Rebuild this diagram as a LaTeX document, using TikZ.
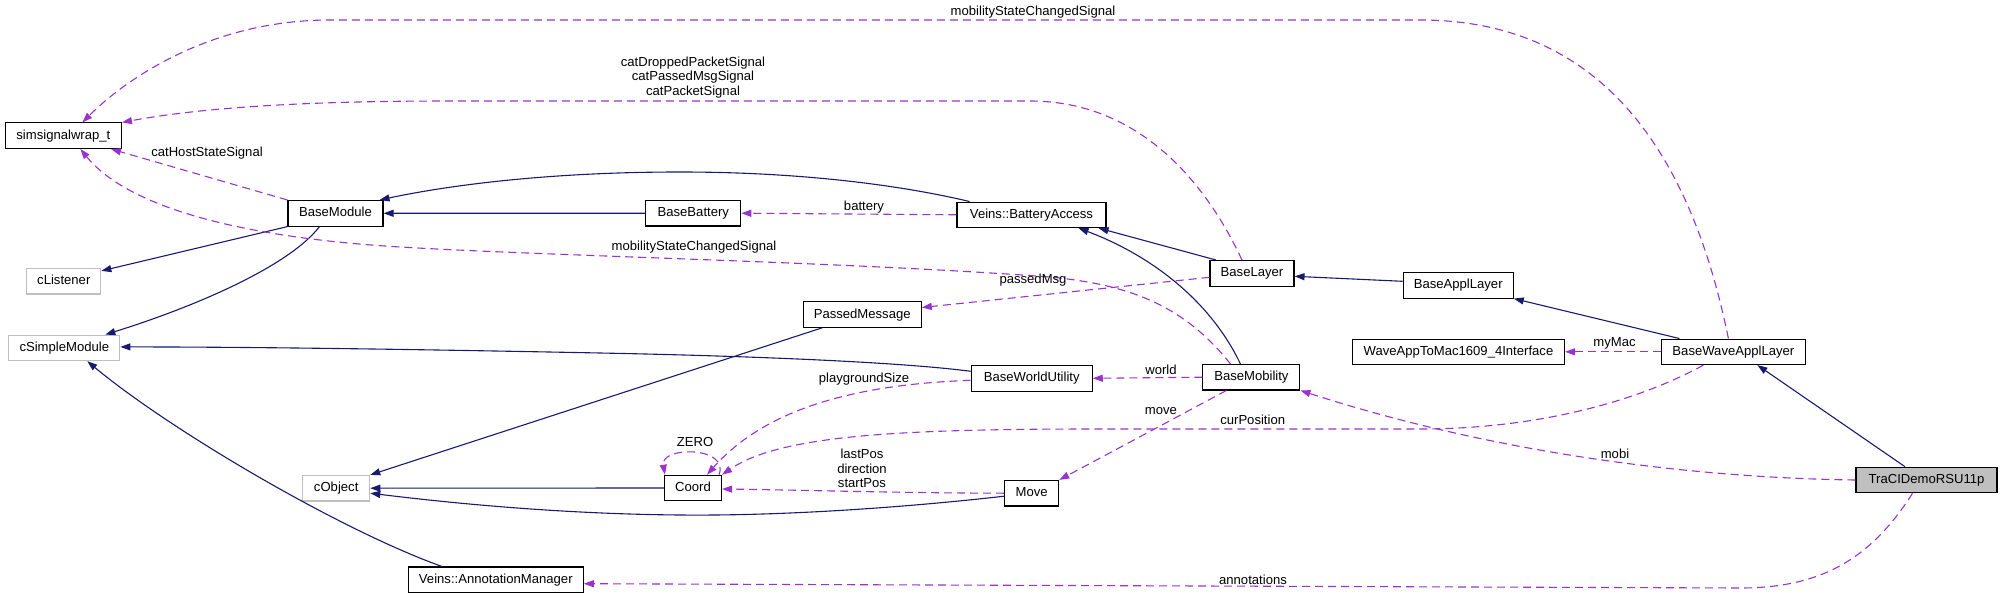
\documentclass[tikz,border=0pt]{standalone}
\usepackage{fontspec}
\setmainfont{Liberation Sans}
\usetikzlibrary{arrows.meta}
\definecolor{navy}{HTML}{191970}
\definecolor{orchid}{HTML}{9A32CD}
\definecolor{boxgray}{HTML}{BFBFBF}
\newcommand\dxfont{\fontsize{13.1}{14.8}\selectfont}
\tikzset{
  cls/.style={draw=black, line width=1.1pt, fill=white, inner sep=0pt,
    minimum height=25.5pt, text height=9.8pt, text depth=2.8pt, font=\dxfont},
  ext/.style={cls, draw=boxgray},
  inh/.style={draw=navy, line width=1.1pt, -{Triangle[length=10pt,width=7pt]}},
  use/.style={draw=orchid, line width=1.1pt, dash pattern=on 8pt off 5pt,
    -{Triangle[length=10pt,width=7pt]}},
  lbl/.style={font=\dxfont, inner sep=0pt, align=center, text height=9.8pt, text depth=2.8pt},
  mlbl/.style={font=\dxfont, inner sep=0pt, align=center},
}
\begin{document}
\begin{tikzpicture}[x=1pt,y=-1pt]
\useasboundingbox (0,0) rectangle (2003,599);
% nodes
\node[cls, minimum width=116pt] (sig)   at (63.4,135.7)  {simsignalwrap\_t};
\node[cls, minimum width=95pt]  (bmod)  at (335.5,213.3) {BaseModule};
\node[ext, minimum width=74pt]  (clis)  at (63.8,281.2)  {cListener};
\node[ext, minimum width=111pt] (csim)  at (64.3,347.9)  {cSimpleModule};
\node[ext, minimum width=67pt]  (cobj)  at (336.2,488.2) {cObject};
\node[cls, minimum width=175pt] (annot) at (495.8,579.7) {Veins::AnnotationManager};
\node[cls, minimum width=95pt]  (bbat)  at (693.3,213.2) {BaseBattery};
\node[cls, minimum width=118pt] (pmsg)  at (862.2,314.5) {PassedMessage};
\node[cls, minimum width=57pt]  (coord) at (693,488)     {Coord};
\node[cls, minimum width=149pt] (bacc)  at (1031.5,214.8) {Veins::BatteryAccess};
\node[cls, minimum width=121pt] (bwu)   at (1031.7,378.3) {BaseWorldUtility};
\node[cls, minimum width=54pt]  (move)  at (1031.7,493.2) {Move};
\node[cls, minimum width=84pt]  (blay)  at (1252,273.3)  {BaseLayer};
\node[cls, minimum width=97pt]  (bmob)  at (1251.4,377.2) {BaseMobility};
\node[cls, minimum width=110pt] (bapp)  at (1458.2,285.3) {BaseApplLayer};
\node[cls, minimum width=212pt] (wave)  at (1458.5,351.8) {WaveAppToMac1609\_4Interface};
\node[cls, minimum width=144pt] (bwal)  at (1733.4,351.8) {BaseWaveApplLayer};
\node[cls, minimum width=141pt, fill=boxgray] (traci) at (1926.5,480) {TraCIDemoRSU11p};

% inheritance edges
\draw[inh] (bbat.west) -- (bmod.east);
\draw[inh] ([xshift=-62pt]bacc.north) .. controls (900,185) and (800,172) .. (680,172)
   .. controls (550,172) and (450,185) .. ([xshift=44pt]bmod.north);
\draw[inh] (bmod.south west) -- ([yshift=-3pt]clis.north east);
\draw[inh] ([xshift=-16pt]bmod.south) .. controls (290,265) and (200,305) .. ([xshift=-15pt]csim.north east);
\draw[inh] ([yshift=7pt]bwu.west) .. controls (900,362) and (750,356) .. (600,353)
   .. controls (400,349) and (250,347) .. ([yshift=1pt]csim.east);
\draw[inh] ([xshift=-54pt]annot.north) .. controls (340,530) and (170,430) .. ([xshift=23pt]csim.south);
\draw[inh] ([xshift=-40pt]pmsg.south) -- (cobj.north east);
\draw[inh] (coord.west) -- (cobj.east);
\draw[inh] ([yshift=-3pt]move.west) .. controls (900,508) and (780,516) .. (680,515)
   .. controls (560,514) and (450,503) .. ([yshift=-5pt]cobj.east);
\draw[inh] ([xshift=-11pt]bmob.north) .. controls (1210,300) and (1150,255) .. ([xshift=47pt]bacc.south);
\draw[inh] ([xshift=-36pt]blay.north) -- ([xshift=67pt]bacc.south);
\draw[inh] ([yshift=4pt]bapp.west) -- ([yshift=-3pt]blay.east);
\draw[inh] ([xshift=-54pt]bwal.north) -- (bapp.south east);
\draw[inh] ([xshift=-21.5pt]traci.north) -- ([xshift=24pt]bwal.south);

% usage edges
\draw[use] ([xshift=-5pt]bwal.north) .. controls (1690,150) and (1600,20) .. (1420,20)
   -- (330,20) .. controls (215,20) and (130,75) .. ([xshift=19pt]sig.north);
\node[lbl] (l1) at (1033,11.7) {mobilityStateChangedSignal};

\draw[use] ([xshift=-10pt]blay.north) .. controls (1200,170) and (1130,101) .. (1030,101)
   -- (450,101) .. controls (300,101) and (200,108) .. (sig.north east);
\node[mlbl] (l2) at (693,77.5) {catDroppedPacketSignal\\catPassedMsgSignal\\catPacketSignal};

\draw[use] (bmod.north west) -- ([xshift=-11pt]sig.south east);
\node[lbl] (l3) at (207,153) {catHostStateSignal};

\draw[use] ([xshift=-21pt]bmob.north) .. controls (1180,300) and (1120,284) .. (1050,277)
   .. controls (850,262) and (550,256) .. (400,247)
   .. controls (250,238) and (130,210) .. ([xshift=17pt]sig.south);
\node[lbl] (l4) at (694,247) {mobilityStateChangedSignal};

\draw[use] (bacc.west) -- (bbat.east);
\node[lbl] (l5) at (864,206.7) {battery};

\draw[use] ([yshift=-4pt]blay.west) -- ([yshift=7pt]pmsg.east);
\node[lbl] (l6) at (1033,280) {passedMsg};

\draw[use] (bmob.west) -- (bwu.east);
\node[lbl] (l7) at (1161,370.7) {world};

\draw[use] ([yshift=-2pt]bwu.west) .. controls (840,385) and (760,415) .. ([xshift=14pt]coord.north);
\node[lbl] (l8) at (864,379) {playgroundSize};

\draw[use] ([xshift=-3pt]coord.north east) .. controls (730,446) and (660,446) .. ([xshift=1pt]coord.north west);
\node[lbl] (l9) at (695,442.7) {ZERO};

\draw[use] (move.west) .. controls (900,493) and (800,490) .. ([yshift=-1pt]coord.east);
\node[mlbl] (l10) at (862,468.5) {lastPos\\direction\\startPos};

\draw[use] ([xshift=-25pt]bmob.south) -- (move.north east);
\node[lbl] (l11) at (1161,410.7) {move};

\draw[use] ([xshift=-30pt]bwal.south) .. controls (1640,400) and (1540,429) .. (1420,429)
   -- (1100,429) .. controls (900,429) and (780,435) .. (coord.north east);
\node[lbl] (l12) at (1252.7,420.7) {curPosition};

\draw[use] (bwal.west) -- (wave.east);
\node[lbl] (l13) at (1614.5,343) {myMac};

\draw[use] (traci.west) .. controls (1700,478) and (1500,455) .. (bmob.south east);
\node[lbl] (l14) at (1615,455) {mobi};

\draw[use] ([xshift=-14pt]traci.south) .. controls (1870,560) and (1820,588) .. (1740,588)
   -- ([yshift=-4pt]annot.east);
\node[lbl] (l15) at (1253,580.7) {annotations};
\end{tikzpicture}
\end{document}
